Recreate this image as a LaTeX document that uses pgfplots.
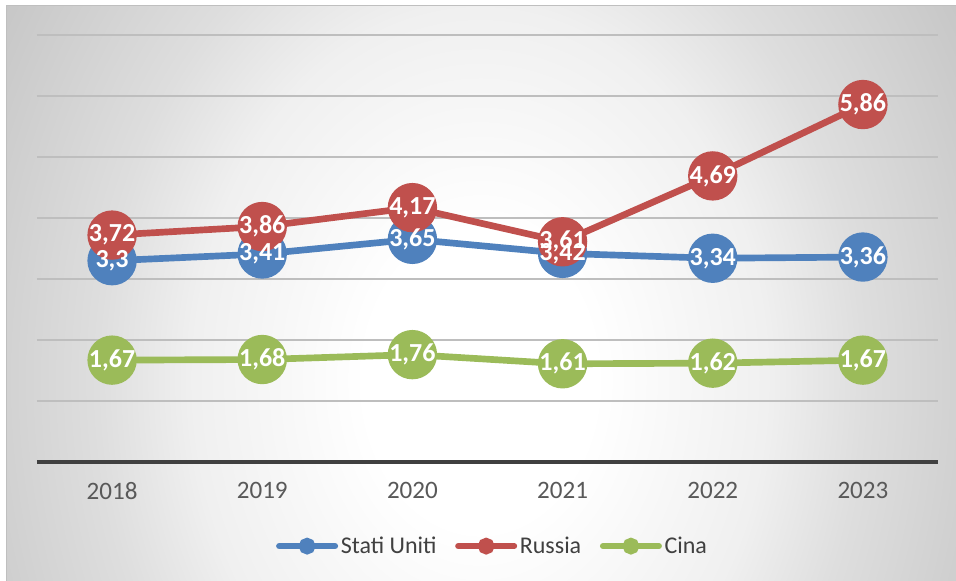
\documentclass[border=0pt]{standalone}
\usepackage{pgfplots}
\pgfplotsset{compat=1.18}
\usepackage{fontspec}
\setmainfont{Carlito}
\definecolor{cblue}{HTML}{4F81BD}
\definecolor{cred}{HTML}{C0504D}
\definecolor{cgreen}{HTML}{9BBB59}
\definecolor{gridgray}{HTML}{BEBEBE}
\definecolor{axisdark}{HTML}{404040}
\definecolor{tickgray}{HTML}{595959}
\definecolor{legendgray}{HTML}{404040}
\pgfdeclareradialshading{bgshade}{\pgfpoint{0bp}{0bp}}{color(0bp)=(white); color(6bp)=(white); color(15bp)=(black!6); color(20bp)=(black!13); color(25bp)=(black!18); color(30bp)=(black!23); color(50bp)=(black!25)}
\begin{document}
\begin{tikzpicture}
\useasboundingbox (0,0) rectangle (717pt,435.75pt);
\fill[white] (0,0) rectangle (717pt,435.75pt);
\begin{scope}
\clip (4.5pt,0pt) rectangle (717pt,431.25pt);
\shade[shading=bgshade] (0pt,-314.25pt) rectangle (720pt,615.75pt);
\end{scope}
\draw[black!25, line width=0.75pt] (4.5pt,0pt) -- (4.5pt,431.25pt) -- (717pt,431.25pt);
\begin{axis}[
  at={(27.75pt,89.25pt)}, anchor=south west,
  scale only axis, width=675.75pt, height=320.25pt,
  xmin=-0.5, xmax=5.5, ymin=0, ymax=7,
  axis line style={draw=none},
  xtick={0,1,2,3,4,5},
  xticklabels={2018,2019,2020,2021,2022,2023},
  ytick={1,2,3,4,5,6,7}, yticklabels={},
  ymajorgrids,
  grid style={draw=gridgray, line width=1.5pt},
  extra y ticks={0}, extra y tick labels={},
  extra y tick style={grid=major, major grid style={draw=axisdark, line width=3pt}},
  major tick length=0pt,
  xticklabel style={font=\fontsize{18.8}{22}\selectfont, text=tickgray, yshift=-12pt},
  /pgf/number format/assume math mode=true,
  /pgf/number format/use comma,
  clip=false,
  legend style={at={(0.506,-0.197)}, anchor=center, draw=none, fill=none,
    font=\fontsize{18}{21}\selectfont, text=legendgray,
    /tikz/every even column/.append style={column sep=12pt}},
  legend columns=3,
  legend cell align=left,
  legend image code/.code={\draw[#1, line width=4.5pt, line cap=round, mark size=4pt, mark repeat=2, mark phase=2] plot coordinates {(0pt,0pt) (21pt,0pt) (42pt,0pt)};},
  every axis plot/.append style={line width=5pt},
  nodes near coords align=center,
  every node near coord/.append style={anchor=center, text=white, font=\fontsize{19.5}{22}\selectfont\bfseries},
]
\addplot[cblue, mark=*, mark size=16pt, mark options={draw=none, fill=cblue}] coordinates {(0,3.3) (1,3.41) (2,3.65) (3,3.42) (4,3.34) (5,3.36)};
\addlegendentry{Stati Uniti}
\addplot[cred, mark=*, mark size=16pt, mark options={draw=none, fill=cred}] coordinates {(0,3.72) (1,3.86) (2,4.17) (3,3.61) (4,4.69) (5,5.86)};
\addlegendentry{Russia}
\addplot[cgreen, mark=*, mark size=16pt, mark options={draw=none, fill=cgreen}] coordinates {(0,1.67) (1,1.68) (2,1.76) (3,1.61) (4,1.62) (5,1.67)};
\addlegendentry{Cina}
\addplot[draw=none, mark=none, nodes near coords, forget plot] coordinates {(0,3.3) (1,3.41) (2,3.65) (3,3.42) (4,3.34) (5,3.36)};
\addplot[draw=none, mark=none, nodes near coords, forget plot] coordinates {(0,3.72) (1,3.86) (2,4.17) (3,3.61) (4,4.69) (5,5.86)};
\addplot[draw=none, mark=none, nodes near coords, forget plot] coordinates {(0,1.67) (1,1.68) (2,1.76) (3,1.61) (4,1.62) (5,1.67)};
\end{axis}
\end{tikzpicture}
\end{document}
